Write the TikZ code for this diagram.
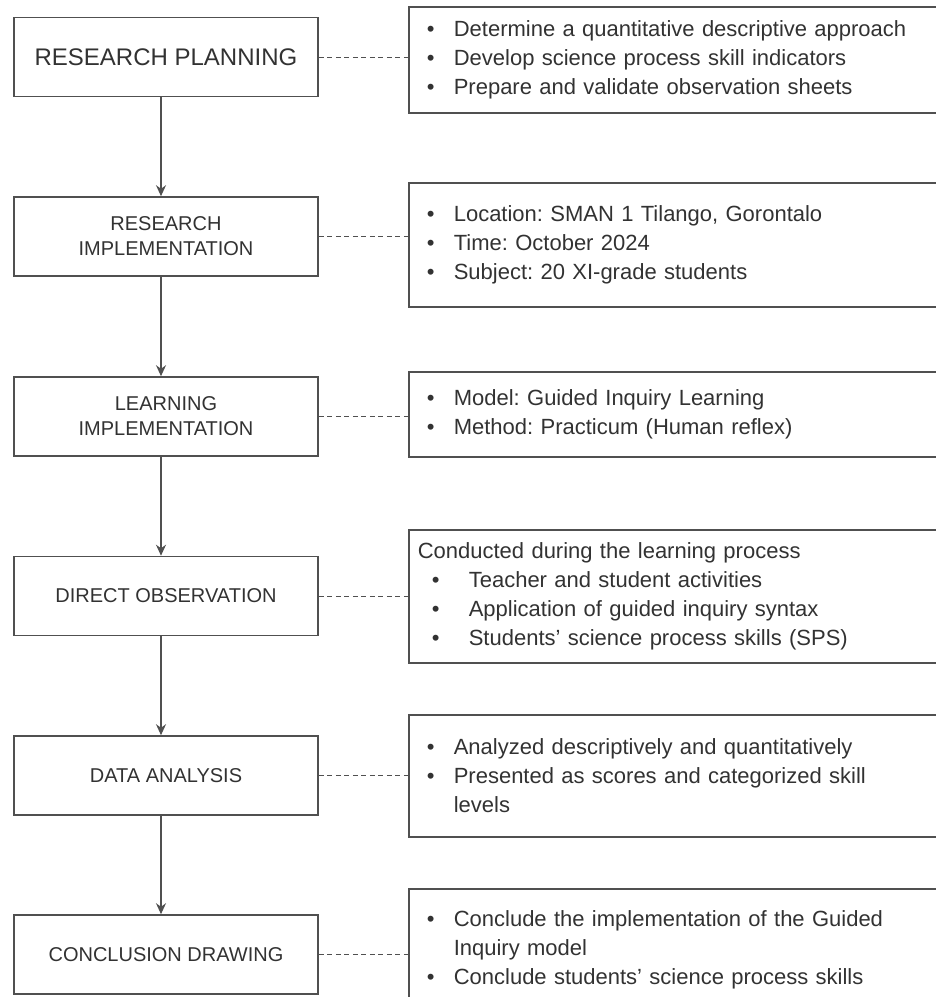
\documentclass[tikz,border=0pt]{standalone}
\usepackage{fontspec}
\setmainfont{Liberation Sans}
\usetikzlibrary{arrows.meta,positioning,calc}
\definecolor{boxgray}{RGB}{80,80,80}
\definecolor{txtgray}{RGB}{50,50,50}
\newcommand{\blt}[3]{\hangindent=#2\hangafter=1\noindent\hbox to #2{\hspace{#1}\textbullet\hfill}#3\par}
\frenchspacing

\begin{document}
\begin{tikzpicture}[x=1pt,y=-1pt,
  every node/.style={text=txtgray},
  stagebox/.style={draw=boxgray,line width=1.6pt,minimum width=304pt,
        minimum height=79pt,align=center,inner sep=2pt,
        font=\fontsize{20}{25}\selectfont},
  notebox/.style={draw=boxgray,line width=1.6pt,anchor=west,text width=509pt,
        align=left,inner xsep=14pt,inner ysep=0pt,
        font=\fontsize{22}{29}\selectfont\frenchspacing},
  flow/.style={draw=boxgray,line width=1.2pt,-{Stealth[length=11pt,width=10pt]}},
  link/.style={draw=boxgray,line width=1pt,dash pattern=on 5pt off 3.5pt}]
  \clip (0,0) rectangle (936,997);

  %% Stages
  \node[stagebox,font=\fontsize{24}{29}\selectfont] (plan) at (166,57) {RESEARCH PLANNING};
  \node[stagebox] (resimpl) at (166,236.5) {RESEARCH\\IMPLEMENTATION};
  \node[stagebox] (learnimpl) at (166,416.5) {LEARNING\\IMPLEMENTATION};
  \node[stagebox] (observ) at (166,596) {DIRECT OBSERVATION};
  \node[stagebox] (analysis) at (166,775.5) {DATA ANALYSIS};
  \node[stagebox] (concl) at (166,954.5) {CONCLUSION DRAWING};

  %% Notes
  \node[notebox,minimum height=106pt] (planN) at (408,60) {%
    \blt{4pt}{31pt}{Determine a quantitative descriptive approach}
    \blt{4pt}{31pt}{Develop science process skill indicators}
    \blt{4pt}{31pt}{Prepare and validate observation sheets}};
  \node[notebox,minimum height=124pt] (resimplN) at (408,245) {%
    \blt{4pt}{31pt}{Location: SMAN 1 Tilango, Gorontalo}
    \blt{4pt}{31pt}{Time: October 2024}
    \blt{4pt}{31pt}{Subject: 20 XI-grade students}};
  \node[notebox,minimum height=85pt] (learnimplN) at (408,414.5) {%
    \blt{4pt}{31pt}{Model: Guided Inquiry Learning}
    \blt{4pt}{31pt}{Method: Practicum (Human reflex)}};
  \node[notebox,minimum height=133pt,inner xsep=9pt,text width=519pt] (observN) at (408,596.5) {%
    \noindent Conducted during the learning process\par
    \blt{14pt}{51pt}{Teacher and student activities}
    \blt{14pt}{51pt}{Application of guided inquiry syntax}
    \blt{14pt}{51pt}{Students' science process skills (SPS)}};
  \node[notebox,minimum height=122pt] (analysisN) at (408,776) {%
    \blt{4pt}{31pt}{Analyzed descriptively and quantitatively}
    \blt{4pt}{31pt}{Presented as scores and categorized skill\newline levels}};
  \node[notebox,minimum height=122pt] (conclN) at (408,950) {%
    \blt{4pt}{31pt}{Conclude the implementation of the Guided\newline Inquiry model}
    \blt{4pt}{31pt}{Conclude students' science process skills}};

  %% Flow arrows
  \foreach \a/\b in {plan/resimpl,resimpl/learnimpl,learnimpl/observ,
                     observ/analysis,analysis/concl}{
    \draw[flow] ([xshift=-5pt]\a.south) -- ([xshift=-5pt]\b.north);
  }

  %% Dashed links
  \foreach \s in {plan,resimpl,learnimpl,observ,analysis,concl}{
    \draw[link] (\s.east) -- (\s.east -| \s N.west);
  }
\end{tikzpicture}
\end{document}
